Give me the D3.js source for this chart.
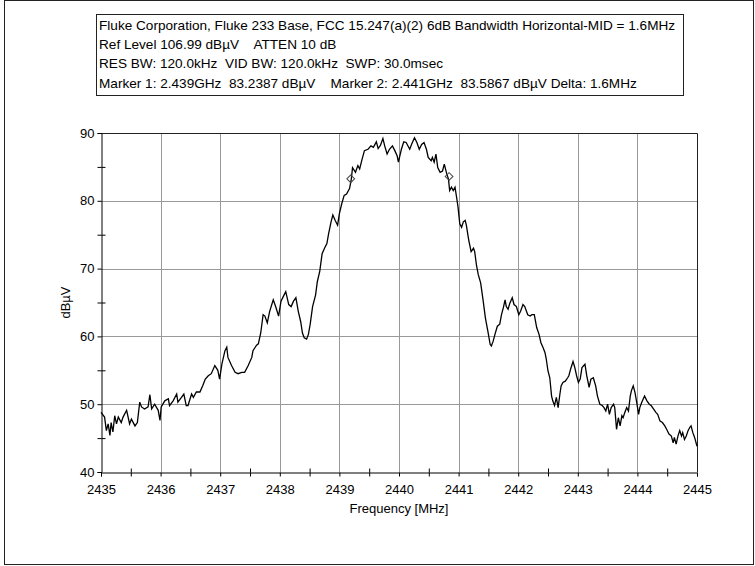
<!DOCTYPE html>
<html>
<head>
<meta charset="utf-8">
<script src="https://cdn.jsdelivr.net/npm/d3@7"></script>
<style>
  body { margin: 0; background: #fff; }
  svg text { font-family: Arial, "Liberation Sans", sans-serif; fill: #000; }
</style>
</head>
<body>
<svg id="chart" width="755" height="566"></svg>
<script>
// header lines shown in the box above the plot
const headerLines = [
  "Fluke Corporation, Fluke 233 Base, FCC 15.247(a)(2) 6dB Bandwidth Horizontal-MID = 1.6MHz",
  "Ref Level 106.99 dBµV    ATTEN 10 dB",
  "RES BW: 120.0kHz  VID BW: 120.0kHz  SWP: 30.0msec",
  "Marker 1: 2.439GHz  83.2387 dBµV    Marker 2: 2.441GHz  83.5867 dBµV Delta: 1.6MHz"
];

const xTicks = [2435, 2436, 2437, 2438, 2439, 2440, 2441, 2442, 2443, 2444, 2445];
const yTicks = [40, 50, 60, 70, 80, 90];

// trace (MHz, dBµV)
const freq = [
  2435.00, 2435.06, 2435.09, 2435.12, 2435.15, 2435.17, 2435.20, 2435.23, 2435.26, 2435.29,
  2435.34, 2435.37, 2435.43, 2435.48, 2435.51, 2435.57, 2435.61, 2435.65, 2435.68, 2435.73,
  2435.79, 2435.82, 2435.85, 2435.90, 2435.96, 2435.99, 2436.01, 2436.07, 2436.13, 2436.15,
  2436.21, 2436.27, 2436.29, 2436.35, 2436.39, 2436.43, 2436.46, 2436.52, 2436.55, 2436.60,
  2436.66, 2436.71, 2436.75, 2436.80, 2436.85, 2436.91, 2436.96, 2436.99, 2437.03, 2437.08,
  2437.11, 2437.13, 2437.19, 2437.25, 2437.30, 2437.36, 2437.41, 2437.47, 2437.53, 2437.55,
  2437.61, 2437.64, 2437.68, 2437.72, 2437.75, 2437.79, 2437.83, 2437.89, 2437.93, 2437.98,
  2438.02, 2438.06, 2438.10, 2438.15, 2438.19, 2438.23, 2438.27, 2438.31, 2438.35, 2438.38,
  2438.41, 2438.45, 2438.48, 2438.51, 2438.55, 2438.60, 2438.63, 2438.67, 2438.71, 2438.75,
  2438.79, 2438.82, 2438.86, 2438.89, 2438.93, 2438.97, 2439.00, 2439.04, 2439.08, 2439.12,
  2439.17, 2439.20, 2439.22, 2439.27, 2439.31, 2439.34, 2439.38, 2439.42, 2439.48, 2439.53,
  2439.57, 2439.62, 2439.65, 2439.69, 2439.73, 2439.76, 2439.80, 2439.84, 2439.89, 2439.93,
  2439.97, 2439.99, 2440.04, 2440.08, 2440.12, 2440.18, 2440.21, 2440.26, 2440.30, 2440.34,
  2440.38, 2440.42, 2440.46, 2440.49, 2440.54, 2440.56, 2440.59, 2440.62, 2440.65, 2440.69,
  2440.73, 2440.76, 2440.80, 2440.83, 2440.85, 2440.88, 2440.91, 2440.94, 2440.97, 2440.99,
  2441.02, 2441.05, 2441.08, 2441.11, 2441.13, 2441.17, 2441.21, 2441.25, 2441.27, 2441.30,
  2441.33, 2441.37, 2441.41, 2441.45, 2441.49, 2441.53, 2441.55, 2441.58, 2441.61, 2441.65,
  2441.69, 2441.72, 2441.75, 2441.78, 2441.80, 2441.83, 2441.86, 2441.90, 2441.93, 2441.97,
  2442.01, 2442.04, 2442.08, 2442.11, 2442.16, 2442.20, 2442.23, 2442.27, 2442.31, 2442.35,
  2442.38, 2442.42, 2442.45, 2442.47, 2442.50, 2442.53, 2442.56, 2442.58, 2442.61, 2442.64,
  2442.67, 2442.70, 2442.72, 2442.75, 2442.79, 2442.83, 2442.85, 2442.88, 2442.92, 2442.95,
  2442.98, 2443.01, 2443.04, 2443.07, 2443.12, 2443.15, 2443.19, 2443.22, 2443.26, 2443.30,
  2443.33, 2443.37, 2443.41, 2443.44, 2443.47, 2443.50, 2443.53, 2443.56, 2443.60, 2443.62,
  2443.65, 2443.68, 2443.71, 2443.74, 2443.76, 2443.79, 2443.82, 2443.85, 2443.88, 2443.90,
  2443.93, 2443.96, 2443.99, 2444.02, 2444.04, 2444.07, 2444.12, 2444.16, 2444.20, 2444.23,
  2444.27, 2444.31, 2444.34, 2444.38, 2444.42, 2444.46, 2444.49, 2444.53, 2444.57, 2444.60,
  2444.62, 2444.65, 2444.68, 2444.71, 2444.74, 2444.76, 2444.79, 2444.82, 2444.85, 2444.88,
  2444.90, 2444.93, 2444.96, 2445.00
];
const level = [
  48.8, 48.1, 46.1, 47.1, 45.4, 47.3, 45.9, 48.3, 47.1, 48.1,
  47.3, 48.1, 49.1, 47.1, 47.8, 46.8, 47.3, 50.3, 49.6, 49.3,
  49.6, 51.4, 49.3, 50.0, 49.1, 47.6, 49.6, 50.5, 50.8, 49.8,
  50.5, 51.5, 50.3, 51.0, 51.5, 49.8, 49.8, 51.5, 51.0, 51.8,
  51.8, 52.8, 53.7, 54.2, 54.5, 55.7, 55.0, 53.7, 56.0, 57.9,
  58.4, 56.9, 55.7, 54.7, 54.5, 54.7, 54.7, 55.7, 56.9, 57.9,
  58.7, 58.9, 60.5, 63.2, 63.0, 62.0, 63.7, 65.4, 64.4, 63.0,
  65.2, 65.9, 66.6, 64.7, 64.4, 65.2, 65.7, 63.7, 62.2, 60.5,
  59.8, 59.6, 60.3, 61.8, 64.4, 66.1, 68.1, 69.6, 72.2, 73.0,
  73.7, 75.2, 76.9, 77.9, 77.1, 76.4, 78.1, 79.6, 80.8, 81.0,
  81.8, 83.2, 84.9, 84.2, 85.2, 84.7, 86.1, 87.4, 87.6, 88.1,
  87.9, 88.7, 87.7, 88.2, 89.2, 88.1, 86.9, 87.6, 88.1, 87.4,
  86.6, 85.7, 87.6, 88.7, 88.6, 87.6, 88.3, 89.3, 88.6, 87.6,
  88.3, 88.6, 87.6, 86.4, 85.9, 86.4, 85.7, 86.9, 84.9, 84.2,
  84.4, 85.4, 84.0, 83.2, 81.5, 82.0, 81.5, 82.0, 80.3, 79.1,
  76.6, 76.1, 76.9, 77.1, 76.4, 74.2, 72.5, 73.0, 72.5, 70.5,
  69.1, 67.9, 65.4, 62.7, 60.8, 58.8, 58.6, 59.3, 60.3, 61.5,
  61.8, 63.2, 64.2, 65.4, 64.4, 64.0, 64.9, 65.7, 64.7, 64.4,
  63.2, 63.7, 64.7, 64.4, 63.2, 63.0, 63.2, 63.2, 61.3, 60.3,
  59.1, 58.3, 57.6, 56.7, 54.9, 53.9, 51.2, 50.5, 49.8, 51.0,
  49.5, 51.5, 52.7, 53.2, 53.4, 53.9, 54.2, 55.2, 56.3, 55.4,
  54.2, 53.2, 53.7, 55.4, 55.9, 54.2, 52.5, 53.7, 53.9, 52.7,
  51.2, 50.0, 49.8, 49.5, 49.0, 50.0, 48.5, 49.5, 50.0, 49.5,
  46.3, 48.0, 46.8, 48.3, 48.0, 48.8, 49.5, 49.0, 51.2, 52.0,
  52.7, 51.7, 50.2, 48.5, 49.5, 50.2, 51.2, 50.5, 50.0, 49.8,
  49.3, 48.8, 48.5, 47.5, 47.3, 46.8, 46.3, 45.6, 45.3, 44.3,
  45.1, 44.1, 45.3, 46.1, 45.3, 45.8, 44.8, 45.3, 46.1, 46.6,
  46.8, 45.8, 45.1, 43.8
];

// marker positions (MHz, dBµV)
const markerFreq = [2439.19, 2440.84];
const markerLevel = [83.24, 83.59];

const svg = d3.select("#chart");

// outer frame
svg.append("rect")
    .attr("x", 4.5).attr("y", 0.5)
    .attr("width", 749).attr("height", 564)
    .attr("fill", "none").attr("stroke", "#222");

// header box
svg.append("rect")
    .attr("x", 96.5).attr("y", 14.5)
    .attr("width", 587).attr("height", 81)
    .attr("fill", "#fff").attr("stroke", "#222");

svg.selectAll(".hdr")
    .data(headerLines)
    .enter().append("text")
    .attr("class", "hdr")
    .attr("x", 99)
    .attr("y", (d, i) => 30 + i * 19.2)
    .attr("font-size", "13.6px")
    .style("white-space", "pre")
    .text(d => d);

const x = d3.scaleLinear().domain([2435, 2445]).range([101, 697]);
const y = d3.scaleLinear().domain([40, 90]).range([472, 133]);

// grid
const grid = svg.append("g").attr("stroke", "#999").attr("stroke-width", 1);
grid.selectAll(".gx").data(xTicks.slice(1, -1)).enter().append("line")
    .attr("x1", d => Math.round(x(d)) + 0.5).attr("x2", d => Math.round(x(d)) + 0.5)
    .attr("y1", y(90)).attr("y2", y(40));
grid.selectAll(".gy").data(yTicks.slice(1, -1)).enter().append("line")
    .attr("x1", x(2435)).attr("x2", x(2445))
    .attr("y1", d => Math.round(y(d)) + 0.5).attr("y2", d => Math.round(y(d)) + 0.5);

// top and right border of the plot
svg.append("path")
    .attr("d", `M${x(2435)},${Math.round(y(90)) + 0.5}H${Math.round(x(2445)) + 0.5}V${y(40)}`)
    .attr("fill", "none").attr("stroke", "#222");

// axes: all half-steps tick outward, labels only on whole values
const xAll = d3.range(2435, 2445.01, 0.5);
const yAll = d3.range(40, 90.01, 5);

const xAxis = svg.append("g")
    .attr("transform", `translate(0,${Math.round(y(40)) + 0.5})`)
    .call(d3.axisBottom(x).tickValues(xAll).tickSize(4).tickPadding(8)
        .tickFormat(d => Number.isInteger(d) ? d : ""));
const yAxis = svg.append("g")
    .attr("transform", `translate(${Math.round(x(2435)) + 0.5},0)`)
    .call(d3.axisLeft(y).tickValues(yAll).tickSize(4).tickPadding(3)
        .tickFormat(d => d % 10 === 0 ? d : ""));

[xAxis, yAxis].forEach(a => {
  a.select(".domain").attr("stroke", "#000");
  a.selectAll(".tick line").attr("stroke", "#000");
  a.selectAll("text").attr("font-size", "13px").attr("font-family", "Arial, 'Liberation Sans', sans-serif");
});

// minor ticks also poke inside the plot
xAxis.selectAll(".tick").filter(d => !Number.isInteger(d)).append("line")
    .attr("y2", -4).attr("stroke", "#000");
yAxis.selectAll(".tick").filter(d => d % 10 !== 0).append("line")
    .attr("x2", 4).attr("stroke", "#000");

// axis titles
svg.append("text")
    .attr("x", (x(2435) + x(2445)) / 2).attr("y", 513)
    .attr("text-anchor", "middle").attr("font-size", "13px")
    .text("Frequency [MHz]");
svg.append("text")
    .attr("transform", `translate(70,${(y(40) + y(90)) / 2}) rotate(-90)`)
    .attr("text-anchor", "middle").attr("font-size", "13px")
    .text("dBµV");

// trace
const pts = freq.map((f, i) => [f, level[i]]);
svg.append("path")
    .datum(pts)
    .attr("fill", "none")
    .attr("stroke", "#000")
    .attr("stroke-width", 1.3)
    .attr("d", d3.line().x(d => x(d[0])).y(d => y(d[1])));

// markers
svg.selectAll(".marker")
    .data(markerFreq)
    .enter().append("path")
    .attr("class", "marker")
    .attr("transform", (d, i) => `translate(${x(d)},${y(markerLevel[i])}) rotate(45)`)
    .attr("d", d3.symbol(d3.symbolSquare, 30))
    .attr("fill", "none")
    .attr("stroke", "#444");
</script>
</body>
</html>
